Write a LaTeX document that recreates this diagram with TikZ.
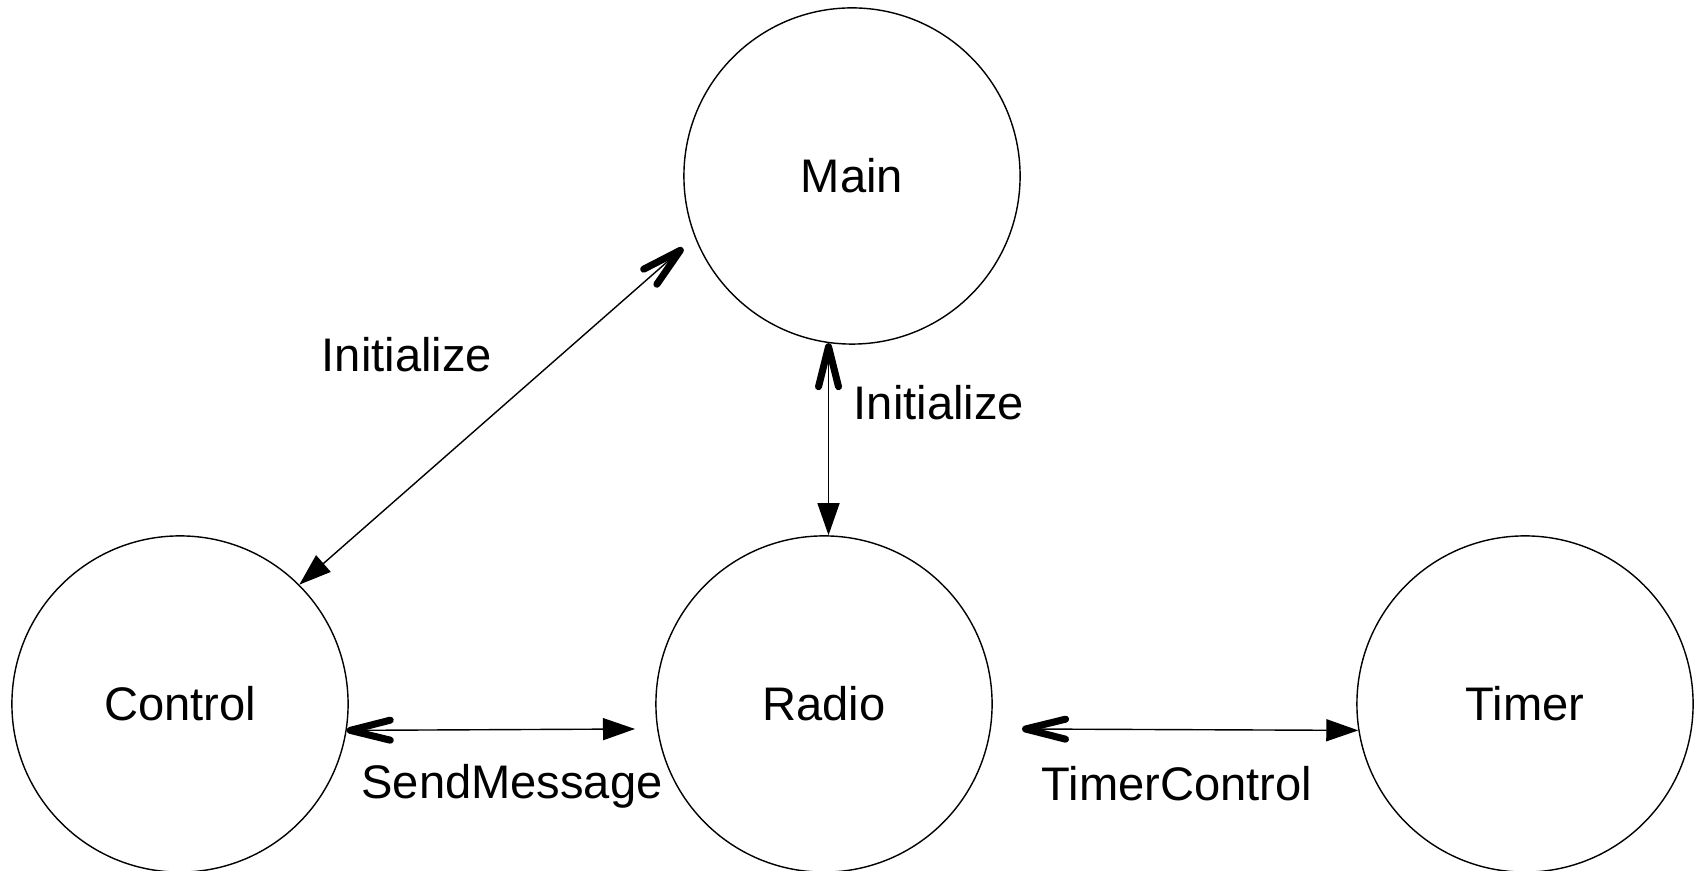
\documentclass[tikz,border=0pt]{standalone}
\usepackage{fontspec}
\setmainfont{Liberation Sans}
\usetikzlibrary{arrows.meta}

\begin{document}
\begin{tikzpicture}[x=0.01cm, y=-0.01cm,
    module/.style={circle, draw, line width=0.4pt, minimum size=3.36cm, inner sep=0pt,
      font=\fontsize{13.4}{16}\selectfont},
    link/.style={line width=0.4pt,
      {Straight Barb[length=0.4cm, width=0.2cm, line width=2pt 0, round]}-{Triangle[length=0.32cm, width=0.22cm]}},
    lbl/.style={anchor=base, inner sep=0pt, font=\fontsize{13.4}{16}\selectfont}]
  \useasboundingbox (0,0) rectangle (1694,871);

  % ---------------- modules ----------------
  \node[module] (Main)    at (852,176)  {Main};
  \node[module] (Control) at (180,704)  {Control};
  \node[module] (Radio)   at (824,704)  {Radio};
  \node[module] (Timer)   at (1525,704) {Timer};

  % free ends of the links
  \coordinate (mainEnd)  at (683,248);
  \coordinate (radioIn)  at (635,729);
  \coordinate (radioOut) at (1022,729);

  % ---------------- links ----------------
  \draw[link] (mainEnd) -- (Control.45);
  \draw[link] (Main.262) -- (Main.262 |- Radio.north);
  \draw[link] (Control.-9) -- (radioIn);
  \draw[link] (radioOut) -- (Timer.189);

  % labels
  \node[lbl] (initControl) at (407,372)  {Initialize};
  \node[lbl] (initRadio)   at (939,420)  {Initialize};
  \node[lbl] (sendMsg)     at (512,799)  {SendMessage};
  \node[lbl] (timerCtl)    at (1177,801) {TimerControl};
\end{tikzpicture}
\end{document}
